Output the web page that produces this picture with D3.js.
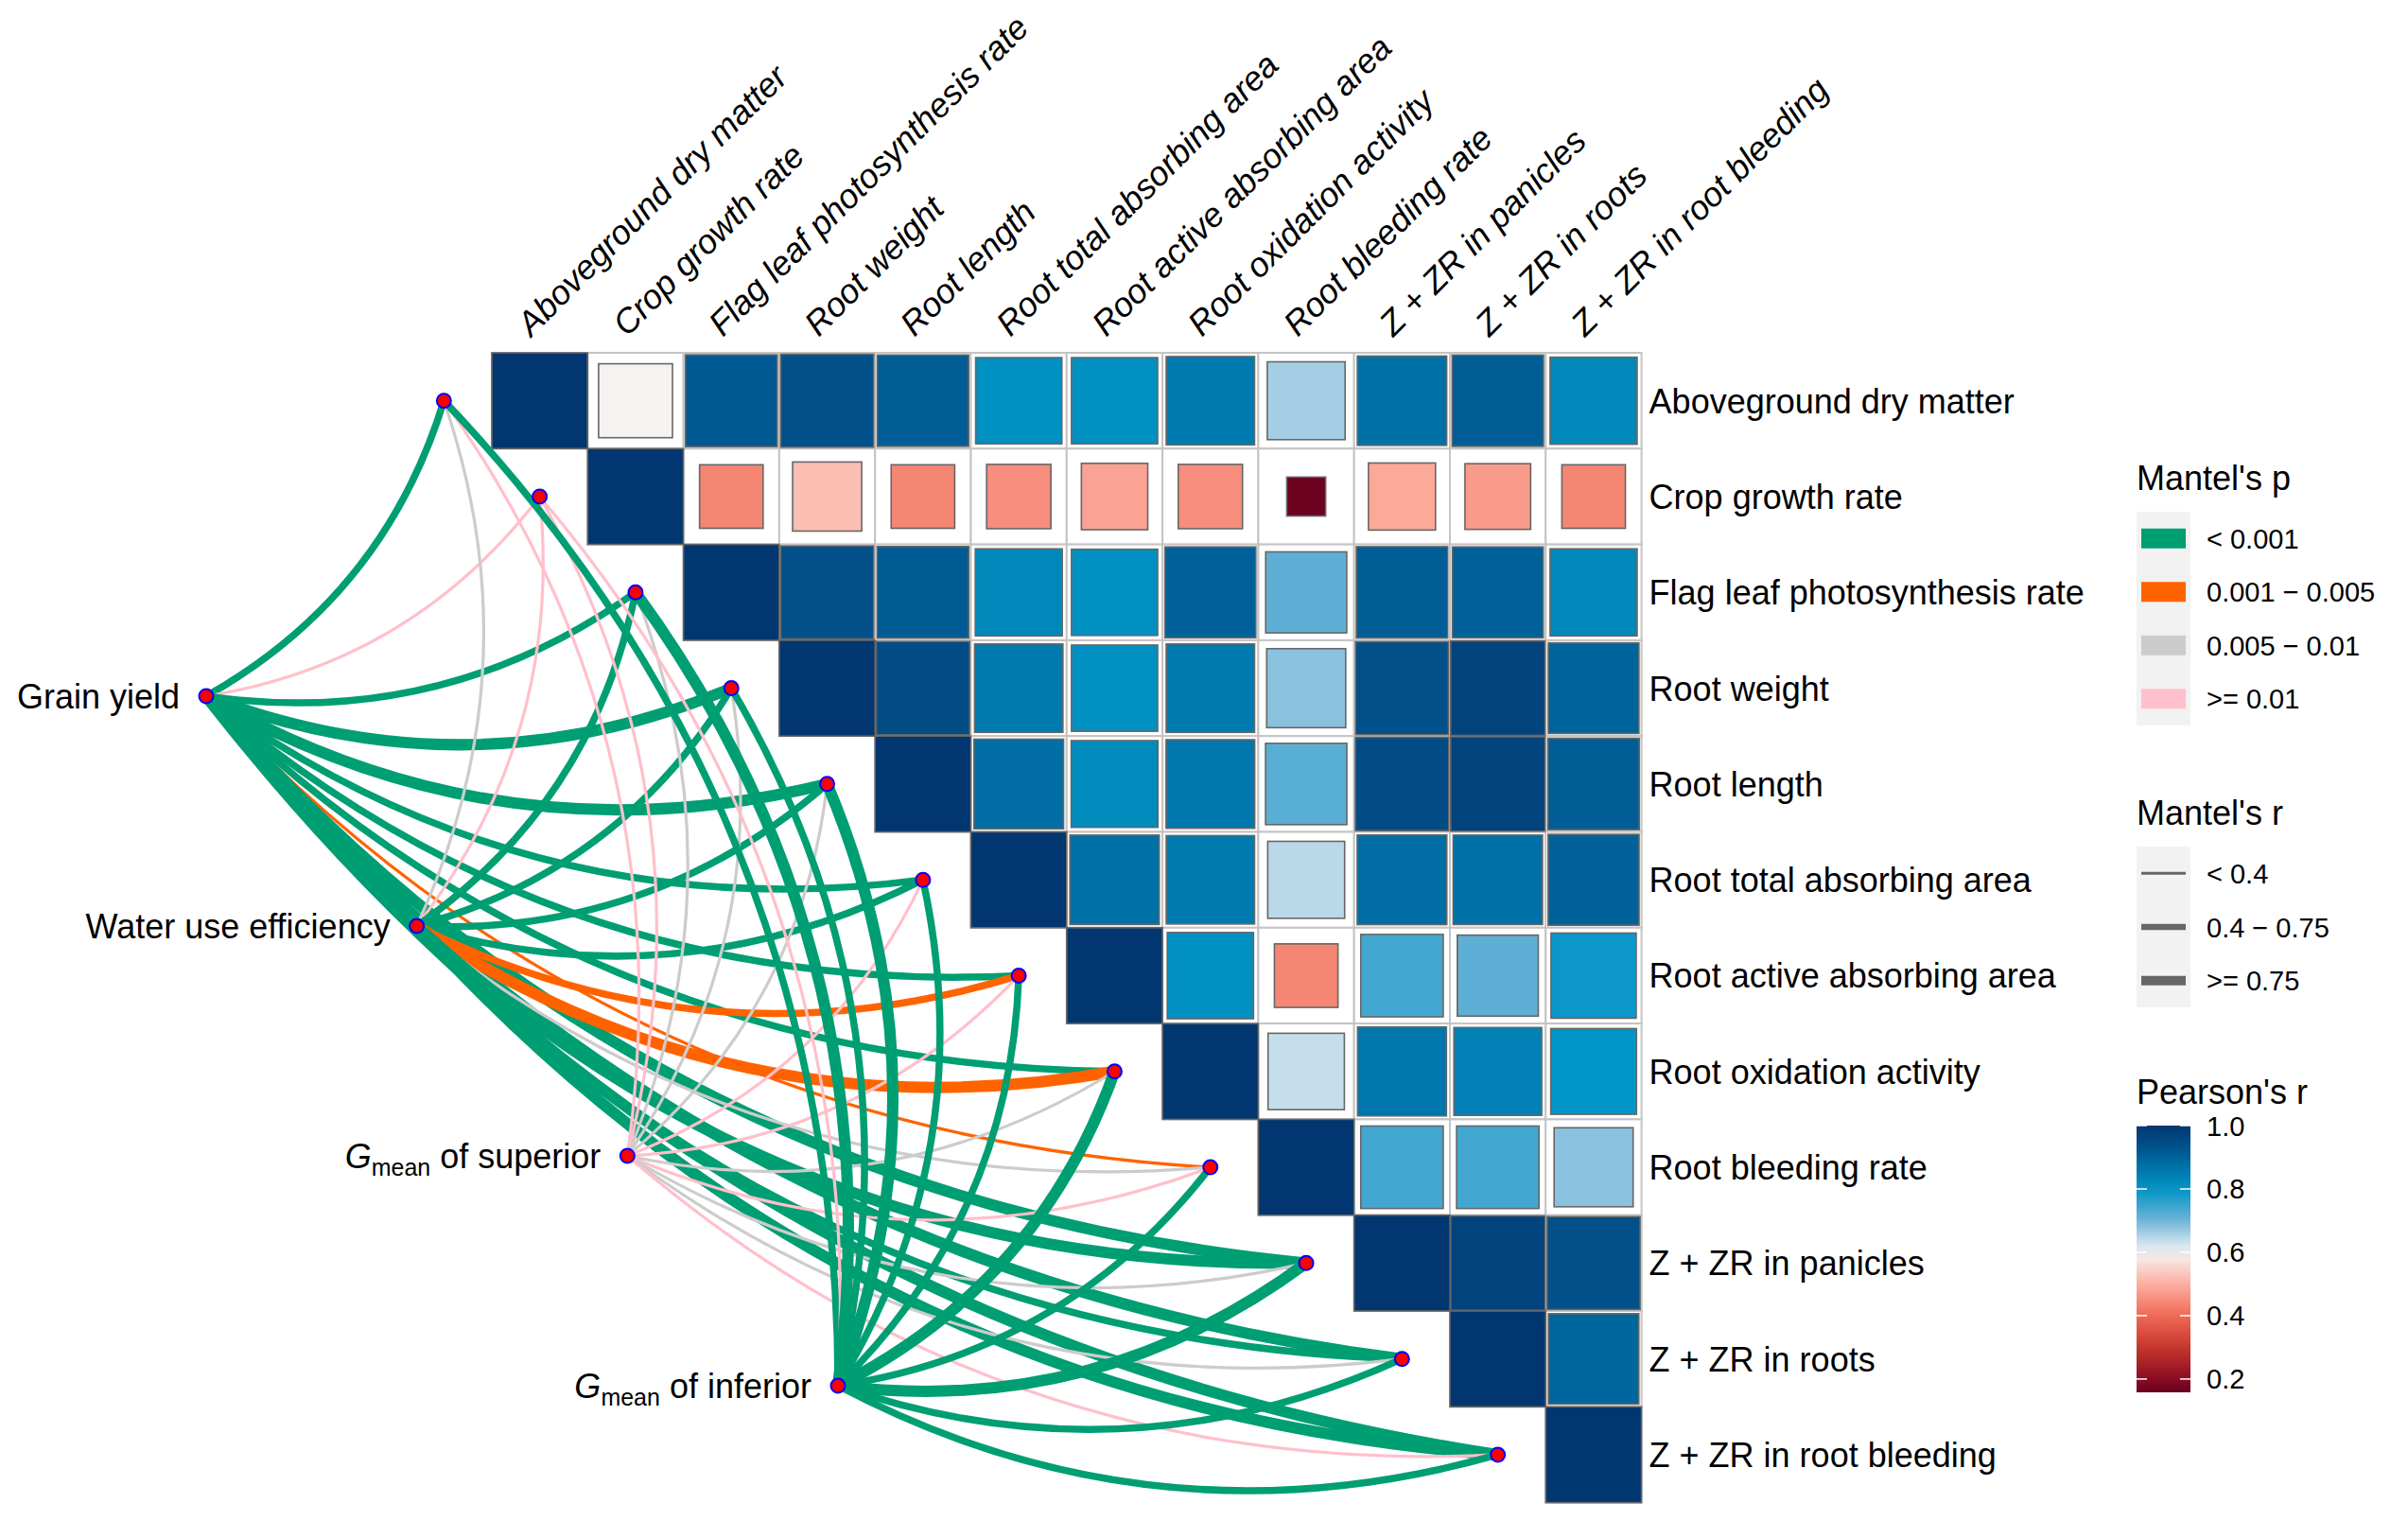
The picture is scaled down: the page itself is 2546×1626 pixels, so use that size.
<!DOCTYPE html>
<html><head><meta charset="utf-8">
<script src="https://cdn.jsdelivr.net/npm/d3@7"></script>
<style>
body{margin:0;background:#fff}
svg{display:block}
text{font-family:"Liberation Sans",Arial,Helvetica,sans-serif;fill:#000}
</style>
</head><body>
<svg id="chart" width="2546" height="1626"></svg>
<script>
// ---------------- DATA ----------------
const specLabels = [
  "Aboveground dry matter","Crop growth rate","Flag leaf photosynthesis rate",
  "Root weight","Root length","Root total absorbing area","Root active absorbing area",
  "Root oxidation activity","Root bleeding rate","Z + ZR in panicles",
  "Z + ZR in roots","Z + ZR in root bleeding"
];
const envLabels = ["Grain yield","Water use efficiency","Gmean of superior","Gmean of inferior"];

// Pearson's r, upper triangle (row i starts at column i)
const pearsonRow0  = [1.00,0.595,0.92,0.94,0.91,0.81,0.81,0.85,0.66,0.87,0.91,0.825];
const pearsonRow1  = [1.00,0.44,0.52,0.44,0.45,0.48,0.45,0.165,0.49,0.47,0.44];
const pearsonRow2  = [1.00,0.94,0.915,0.825,0.81,0.90,0.715,0.91,0.90,0.825];
const pearsonRow3  = [1.00,0.95,0.85,0.81,0.85,0.68,0.94,0.97,0.895];
const pearsonRow4  = [1.00,0.875,0.82,0.855,0.72,0.95,0.97,0.91];
const pearsonRow5  = [1.00,0.87,0.85,0.645,0.875,0.87,0.90];
const pearsonRow6  = [1.00,0.81,0.44,0.74,0.715,0.79];
const pearsonRow7  = [1.00,0.635,0.86,0.84,0.80];
const pearsonRow8  = [1.00,0.74,0.74,0.68];
const pearsonRow9  = [1.00,0.97,0.94];
const pearsonRow10 = [1.00,0.89];
const pearsonRow11 = [1.00];
const pearsonRows = [pearsonRow0,pearsonRow1,pearsonRow2,pearsonRow3,pearsonRow4,pearsonRow5,
                     pearsonRow6,pearsonRow7,pearsonRow8,pearsonRow9,pearsonRow10,pearsonRow11];
const pearsonTicks = [1.0,0.8,0.6,0.4,0.2];

// Mantel test categories (per environment, one entry per spec variable)
const mantelPLevels = ["< 0.001","0.001 \u2212 0.005","0.005 \u2212 0.01",">= 0.01"];
const mantelRLevels = ["< 0.4","0.4 \u2212 0.75",">= 0.75"];
const P1 = mantelPLevels[0], P2 = mantelPLevels[1], P3 = mantelPLevels[2], P4 = mantelPLevels[3];
const R1 = mantelRLevels[0], R2 = mantelRLevels[1], R3 = mantelRLevels[2];

const grainYieldP = [P1,P4,P1,P1,P1,P1,P1,P1,P2,P1,P1,P1];
const grainYieldR = [R2,R1,R2,R3,R3,R2,R2,R2,R1,R3,R3,R3];
const wueP        = [P3,P4,P1,P1,P1,P1,P2,P2,P3,P1,P1,P1];
const wueR        = [R1,R1,R2,R2,R2,R2,R2,R3,R1,R3,R2,R3];
const gSupP       = [P4,P4,P3,P3,P3,P4,P4,P3,P4,P3,P3,P4];
const gSupR       = [R1,R1,R1,R1,R1,R1,R1,R1,R1,R1,R1,R1];
const gInfP       = [P1,P4,P1,P1,P1,P1,P1,P1,P1,P1,P1,P1];
const gInfR       = [R2,R1,R3,R2,R3,R2,R2,R3,R2,R3,R2,R2];
const mantelP = [grainYieldP,wueP,gSupP,gInfP];
const mantelR = [grainYieldR,wueR,gSupR,gInfR];

// ---------------- STYLE / LAYOUT ----------------
const svg = d3.select("#chart");
const cell = 101.3, gx0 = 520, gy0 = 373;
const x = d3.scaleBand().domain(specLabels).range([gx0, gx0 + cell*specLabels.length]);
const y = d3.scaleBand().domain(specLabels).range([gy0, gy0 + cell*specLabels.length]);
const bw = x.bandwidth();

const color = d3.scaleLinear()
  .domain([0.158,0.2,0.3,0.4,0.5,0.6,0.7,0.8,0.9,1.0])
  .range(["#67001f","#8a0c22","#c8352d","#f06a56","#fdb0a2","#f5f5f5","#6fb4d8","#0095c6","#00619a","#023670"])
  .interpolate(d3.interpolateRgb).clamp(true);

const pColor = d3.scaleOrdinal().domain(mantelPLevels).range(["#009e73","#ff6300","#cccccc","#ffc0cb"]);
const rWidth = d3.scaleOrdinal().domain(mantelRLevels).range([3.2,7.5,12]);

const envX = d3.scalePoint().domain(envLabels).range([218,886]);
const envY = d3.scalePoint().domain(envLabels).range([736,1465]);
const specX = s => x(s) - bw/2;
const specY = s => y(s) + bw/2;

// ---------------- HEATMAP ----------------
const cells = [];
pearsonRows.forEach((row,i)=>row.forEach((r,k)=>{
  const j = i + k;
  cells.push({row:specLabels[i], col:specLabels[j], r});
}));
const gHeat = svg.append("g");
gHeat.selectAll("rect.bg").data(cells).join("rect").attr("class","bg")
  .attr("x",d=>x(d.col)).attr("y",d=>y(d.row)).attr("width",bw).attr("height",bw)
  .attr("fill","#fff").attr("stroke","#c4c4c4").attr("stroke-width",2);
gHeat.selectAll("rect.sq").data(cells).join("rect").attr("class","sq")
  .attr("x",d=>x(d.col) + bw*(1-Math.sqrt(Math.abs(d.r)))/2)
  .attr("y",d=>y(d.row) + bw*(1-Math.sqrt(Math.abs(d.r)))/2)
  .attr("width",d=>bw*Math.sqrt(Math.abs(d.r)))
  .attr("height",d=>bw*Math.sqrt(Math.abs(d.r)))
  .attr("fill",d=>color(d.r)).attr("stroke","#666").attr("stroke-width",1.6);

// axis labels
const gAxis = svg.append("g").style("font-size","36px");
gAxis.selectAll("text.right").data(specLabels).join("text").attr("class","right")
  .attr("x", gx0 + cell*specLabels.length + 8)
  .attr("y", d=>y(d)+bw/2+13)
  .text(d=>d);
gAxis.selectAll("text.top").data(specLabels).join("text").attr("class","top")
  .attr("transform", d=>`translate(${x(d)+bw/2-9},357) rotate(-45)`)
  .style("font-style","italic")
  .text(d=>d);

// ---------------- MANTEL LINKS ----------------
const links = [];
envLabels.forEach((e,k)=>specLabels.forEach((s,i)=>{
  links.push({env:e, spec:s, p:mantelP[k][i], r:mantelR[k][i]});
}));
function curvePath(d){
  const x1 = envX(d.env), y1 = envY(d.env);
  const x2 = specX(d.spec), y2 = specY(d.spec);
  const dx = x2-x1, dy = y2-y1, c = 0.2;
  const cx = (x1+x2)/2 - dy*c, cy = (y1+y2)/2 + dx*c;
  return `M${x1},${y1}Q${cx},${cy} ${x2},${y2}`;
}
svg.append("g").selectAll("path").data(links).join("path")
  .attr("d",curvePath).attr("fill","none")
  .attr("stroke",d=>pColor(d.p)).attr("stroke-width",d=>rWidth(d.r));

// nodes
const gNodes = svg.append("g");
gNodes.selectAll("circle.spec").data(specLabels).join("circle").attr("class","spec")
  .attr("cx",specX).attr("cy",specY).attr("r",7.5)
  .attr("fill","#ff0000").attr("stroke","#0000ff").attr("stroke-width",2);
gNodes.selectAll("circle.env").data(envLabels).join("circle").attr("class","env")
  .attr("cx",envX).attr("cy",envY).attr("r",7.5)
  .attr("fill","#ff0000").attr("stroke","#0000ff").attr("stroke-width",2);

const envText = svg.append("g").style("font-size","36px").selectAll("text").data(envLabels).join("text")
  .attr("x",d=>envX(d)-28).attr("y",d=>envY(d)+13).attr("text-anchor","end");
envText.each(function(d){
  const t = d3.select(this);
  if (d.startsWith("Gmean")) {
    t.append("tspan").style("font-style","italic").text("G");
    t.append("tspan").style("font-size","25px").attr("dy",8).text("mean");
    t.append("tspan").attr("dy",-8).text(d.replace("Gmean",""));
  } else t.text(d);
});

// ---------------- LEGENDS ----------------
const lx = 2259, kw = 57, tx = 2333;
const gLeg = svg.append("g");
// Mantel's p
gLeg.append("text").attr("x",lx).attr("y",518).style("font-size","36px").text("Mantel's p");
const pRow = d3.scaleBand().domain(mantelPLevels).range([541,767]);
gLeg.append("rect").attr("x",lx).attr("y",541).attr("width",kw).attr("height",226).attr("fill","#f2f2f2");
gLeg.selectAll("rect.pk").data(mantelPLevels).join("rect").attr("class","pk")
  .attr("x",lx+5).attr("width",kw-10).attr("y",d=>pRow(d)+pRow.bandwidth()/2-10.5).attr("height",21)
  .attr("fill",d=>pColor(d));
gLeg.selectAll("text.pl").data(mantelPLevels).join("text").attr("class","pl")
  .attr("x",tx).attr("y",d=>pRow(d)+pRow.bandwidth()/2+10.5).style("font-size","29px").text(d=>d);
// Mantel's r
gLeg.append("text").attr("x",lx).attr("y",872).style("font-size","36px").text("Mantel's r");
const rRow = d3.scaleBand().domain(mantelRLevels).range([895,1065]);
gLeg.append("rect").attr("x",lx).attr("y",895).attr("width",kw).attr("height",170).attr("fill","#f2f2f2");
gLeg.selectAll("line.rk").data(mantelRLevels).join("line").attr("class","rk")
  .attr("x1",lx+5).attr("x2",lx+kw-5)
  .attr("y1",d=>rRow(d)+rRow.bandwidth()/2).attr("y2",d=>rRow(d)+rRow.bandwidth()/2)
  .attr("stroke","#666").attr("stroke-width",(d,i)=>[3,6.5,10][i]);
gLeg.selectAll("text.rl").data(mantelRLevels).join("text").attr("class","rl")
  .attr("x",tx).attr("y",d=>rRow(d)+rRow.bandwidth()/2+10.5).style("font-size","29px").text(d=>d);
// Pearson's r colorbar
gLeg.append("text").attr("x",lx).attr("y",1167).style("font-size","36px").text("Pearson's r");
const cb = d3.scaleLinear().domain([0.158,1.0]).range([1472,1190]);
const grad = svg.append("defs").append("linearGradient").attr("id","cbar")
  .attr("x1",0).attr("y1",1).attr("x2",0).attr("y2",0);
d3.range(0,1.0001,0.05).forEach(t=>{
  grad.append("stop").attr("offset",t).attr("stop-color",color(0.158+t*(1-0.158)));
});
gLeg.append("rect").attr("x",lx).attr("y",1190).attr("width",kw).attr("height",1472-1190).attr("fill","url(#cbar)");
gLeg.selectAll("line.tl").data(pearsonTicks).join("line").attr("class","tl")
  .attr("x1",lx).attr("x2",lx+11).attr("y1",cb).attr("y2",cb).attr("stroke","#fff").attr("stroke-width",1.5);
gLeg.selectAll("line.tr").data(pearsonTicks).join("line").attr("class","tr")
  .attr("x1",lx+kw-11).attr("x2",lx+kw).attr("y1",cb).attr("y2",cb).attr("stroke","#fff").attr("stroke-width",1.5);
gLeg.selectAll("text.cl").data(pearsonTicks).join("text").attr("class","cl")
  .attr("x",tx).attr("y",d=>cb(d)+10.5).style("font-size","29px").text(d=>d3.format(".1f")(d));
</script>
</body></html>
